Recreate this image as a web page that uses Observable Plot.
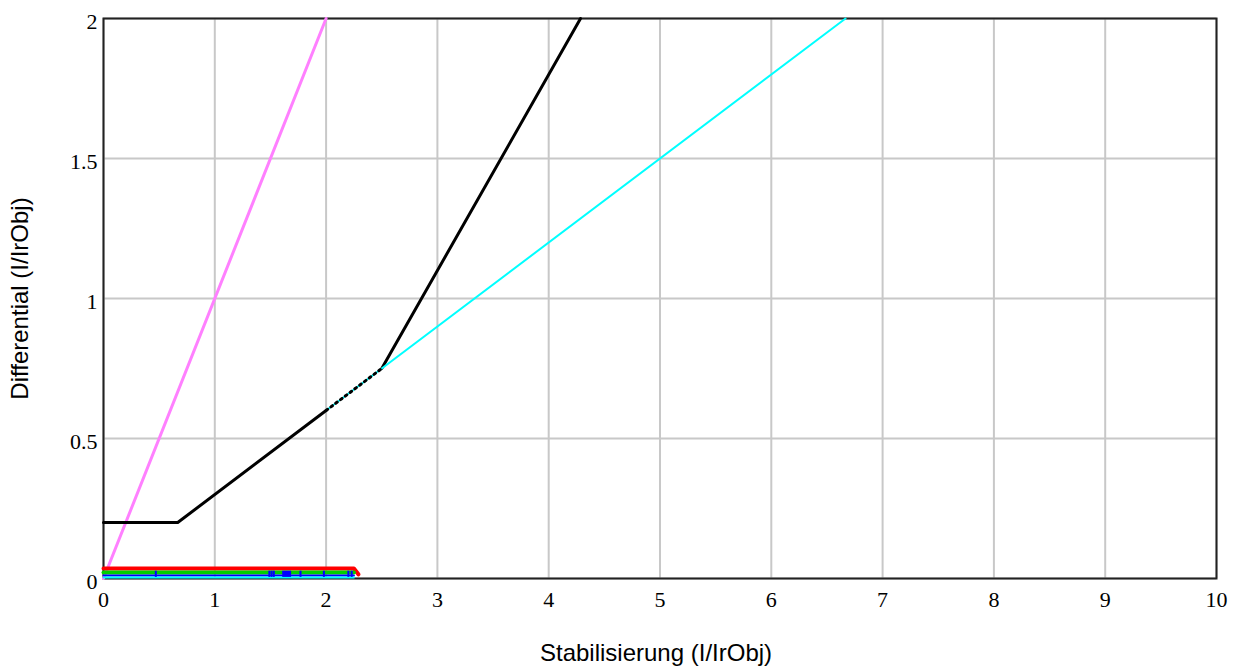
<!DOCTYPE html>
<html><head><meta charset="utf-8">
<script src="https://cdn.jsdelivr.net/npm/d3@7"></script>
<script src="https://cdn.jsdelivr.net/npm/@observablehq/plot@0.6"></script>
<style>body{margin:0;background:#fff}</style>
</head><body><div id="chart"></div>
<script>
const xTicks = [0,1,2,3,4,5,6,7,8,9,10];
const yTicks = [0,0.5,1,1.5,2];
const magentaX = [0,2], magentaY = [0,2];
const blackX = [0,0.667,2], blackY = [0.2,0.2,0.6];
const blackDotX = [2,2.5], blackDotY = [0.6,0.75];
const blackSteepX = [2.5,4.286], blackSteepY = [0.75,2];
const cyanX = [2,6.667], cyanY = [0.6,2];
const redX = [0,2.25,2.29], redY = [0.036,0.036,0.015];
const greenX = [0,2.25], greenY = [0.021,0.021];
const blueX = [0,2.25], blueY = [0.011,0.011];
const cyanBaseX = [0,2.25], cyanBaseY = [0.004,0.004];
const blueTickX = [0.47,1.49,1.51,1.53,1.77,1.98,2.20,2.23];
const blueBlockX = [1.61,1.69];
const xLabel = "Stabilisierung (I/IrObj)";
const yLabel = "Differential (I/IrObj)";

const pts = (xs, ys) => xs.map((x,i) => ({x, y: ys[i]}));

const chart = Plot.plot({
  width: 1242, height: 670,
  marginLeft: 103, marginRight: 26, marginTop: 18, marginBottom: 92,
  x: {domain: [0,10]},
  y: {domain: [0,2]},
  style: {background: "#fff", color: "#000"},
  marks: [
    Plot.gridX(xTicks, {stroke: "#c8c8c8", strokeOpacity: 1, strokeWidth: 2}),
    Plot.gridY(yTicks, {stroke: "#c8c8c8", strokeOpacity: 1, strokeWidth: 2}),
    Plot.frame({stroke: "#222", strokeWidth: 2}),
    Plot.axisX(xTicks, {tickSize: 0, tickPadding: 13, fontSize: 22, fontFamily: "Liberation Serif", label: null, tickFormat: d => String(d)}),
    Plot.axisY(yTicks, {tickSize: 0, tickPadding: 6, fontSize: 22, fontFamily: "Liberation Serif", label: null, dy: 3, tickFormat: d => String(d)}),
    Plot.line(pts(magentaX, magentaY), {x: "x", y: "y", stroke: "#ff80ff", strokeWidth: 3}),
    Plot.line(pts(blackX, blackY), {x: "x", y: "y", stroke: "#000", strokeWidth: 3}),
    Plot.line(pts(blackSteepX, blackSteepY), {x: "x", y: "y", stroke: "#000", strokeWidth: 3}),
    Plot.line(pts(cyanX, cyanY), {x: "x", y: "y", stroke: "#00ffff", strokeWidth: 2}),
    Plot.line(pts(blackDotX, blackDotY), {x: "x", y: "y", stroke: "#000", strokeWidth: 3, strokeDasharray: "2,4"}),
    Plot.line(pts(redX, redY), {x: "x", y: "y", stroke: "#ff0000", strokeWidth: 4}),
    Plot.line(pts(greenX, greenY), {x: "x", y: "y", stroke: "#00d000", strokeWidth: 4}),
    Plot.line(pts(blueX, blueY), {x: "x", y: "y", stroke: "#0000ff", strokeWidth: 2}),
    Plot.line(pts(cyanBaseX, cyanBaseY), {x: "x", y: "y", stroke: "#00ffff", strokeWidth: 2}),
    Plot.ruleX(blueTickX, {y1: 0.004, y2: 0.026, stroke: "#0000ff", strokeWidth: 2}),
    Plot.rect([{x1: blueBlockX[0], x2: blueBlockX[1]}], {x1: "x1", x2: "x2", y1: 0.004, y2: 0.026, fill: "#0000ff"}),
    Plot.text([xLabel], {frameAnchor: "bottom", dy: 82, dx: -4, fontSize: 24, fontFamily: "Liberation Sans", fill: "#000"}),
    Plot.text([yLabel], {frameAnchor: "left", textAnchor: "middle", dx: -83, rotate: -90, fontSize: 24, fontFamily: "Liberation Sans", fill: "#000"})
  ]
});
document.getElementById("chart").appendChild(chart);
</script>
</body></html>
